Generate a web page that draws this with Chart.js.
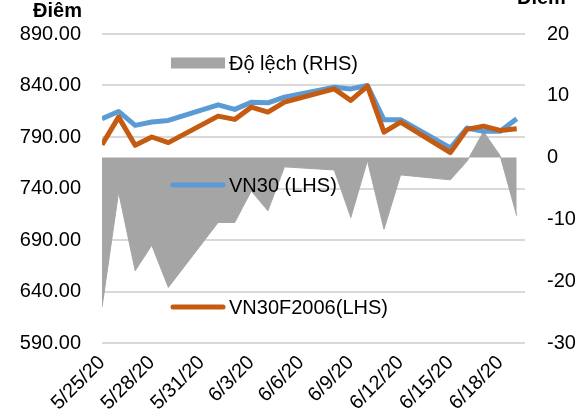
<!DOCTYPE html>
<html>
<head>
<meta charset="utf-8">
<script src="https://cdn.jsdelivr.net/npm/chart.js@4.4.0/dist/chart.umd.min.js"></script>
<style>
  html, body { margin: 0; padding: 0; background: #fff; }
  #wrap { width: 582px; height: 418px; }
</style>
</head>
<body>
<div id="wrap"><canvas id="chart"></canvas></div>
<script>
// calendar days on the date axis (weekends have no trading data)
const dates = [
  '5/25/20', '5/26/20', '5/27/20', '5/28/20', '5/29/20', '5/30/20', '5/31/20',
  '6/1/20', '6/2/20', '6/3/20', '6/4/20', '6/5/20', '6/6/20', '6/7/20',
  '6/8/20', '6/9/20', '6/10/20', '6/11/20', '6/12/20', '6/13/20', '6/14/20',
  '6/15/20', '6/16/20', '6/17/20', '6/18/20', '6/19/20'
];
const vn30 = [
  807.7, 814.8, 801.3, 804.5, 806.1, null, null,
  821.2, 816.8, 823.8, 823.2, 828.7, null, null,
  838.4, 836.7, 840.0, 806.7, 806.7, null, null,
  779.3, 798.7, 795.5, 795.5, 807.7
];
const vn30f2006 = [
  782.5, 809.3, 781.9, 790.0, 784.5, null, null,
  810.3, 807.1, 819.0, 814.2, 823.8, null, null,
  836.7, 825.5, 839.3, 794.8, 804.5, null, null,
  774.8, 797.4, 800.6, 796.4, 798.0
];
const spread = [
  -24.2, -5.6, -18.3, -14.2, -21.0, null, null,
  -10.5, -10.5, -5.4, -8.6, -1.5, null, null,
  -2.0, -9.7, -0.5, -11.6, -2.8, null, null,
  -3.6, -0.6, 4.2, 0.3, -9.4
];
const leftTicks = { min: 590, max: 890, step: 50 };
const rightTicks = { min: -30, max: 20, step: 10 };

const FONT = "'Liberation Sans', Arial, sans-serif";

// keep only trading days, x = day offset on the calendar axis
function toPoints(values) {
  const pts = [];
  values.forEach((v, i) => {
    if (v !== null) pts.push({ x: i, y: v });
  });
  return pts;
}

// legend entries sit inside the plot, like the original
const legendPlugin = {
  id: 'floatingLegend',
  afterDatasetsDraw(chart) {
    const ctx = chart.ctx;
    const spots = [
      { ds: 2, y: 63 },
      { ds: 1, y: 185 },
      { ds: 0, y: 307 },
    ];
    ctx.save();
    ctx.font = '20px ' + FONT;
    ctx.textBaseline = 'middle';
    ctx.fillStyle = '#000';
    spots.forEach((s) => {
      const ds = chart.data.datasets[s.ds];
      if (ds.fill) {
        ctx.fillStyle = ds.backgroundColor;
        ctx.fillRect(171, s.y - 5.5, 54, 11);
      } else {
        ctx.strokeStyle = ds.borderColor;
        ctx.lineWidth = 5;
        ctx.lineCap = 'round';
        ctx.beginPath();
        ctx.moveTo(173, s.y);
        ctx.lineTo(223, s.y);
        ctx.stroke();
      }
      ctx.fillStyle = '#000';
      ctx.textAlign = 'left';
      ctx.fillText(ds.label, 229, s.y + 1);
    });
    // axis unit titles
    ctx.font = 'bold 20px ' + FONT;
    ctx.textBaseline = 'alphabetic';
    ctx.textAlign = 'right';
    ctx.fillText('Điêm', 82, 17);
    ctx.textAlign = 'left';
    ctx.fillText('Điêm', 517, 4);
    ctx.restore();
  },
};

new Chart(document.getElementById('chart'), {
  type: 'line',
  data: {
    datasets: [
      {
        label: 'VN30F2006(LHS)',
        data: toPoints(vn30f2006),
        yAxisID: 'y',
        borderColor: '#C55A11',
        borderWidth: 5,
        borderJoinStyle: 'round',
        pointRadius: 0,
        tension: 0,
        fill: false,
        order: 0,
      },
      {
        label: 'VN30 (LHS)',
        data: toPoints(vn30),
        yAxisID: 'y',
        borderColor: '#5B9BD5',
        borderWidth: 5,
        borderJoinStyle: 'round',
        pointRadius: 0,
        tension: 0,
        fill: false,
        order: 1,
      },
      {
        label: 'Độ lệch (RHS)',
        data: toPoints(spread),
        yAxisID: 'y2',
        borderColor: '#A5A5A5',
        backgroundColor: '#A5A5A5',
        borderWidth: 1,
        pointRadius: 0,
        tension: 0,
        fill: 'origin',
        order: 2,
      },
    ],
  },
  options: {
    responsive: true,
    maintainAspectRatio: false,
    animation: false,
    layout: {
      padding: { top: 31, right: 0, bottom: 0, left: 0 },
    },
    plugins: {
      legend: { display: false },
      tooltip: { enabled: false },
    },
    scales: {
      x: {
        type: 'linear',
        min: 0,
        max: 25.5,
        grid: { display: false, drawTicks: false },
        border: { display: false },
        afterFit: (scale) => { scale.height = 75; },
        ticks: {
          stepSize: 3,
          includeBounds: false,
          autoSkip: false,
          minRotation: 45,
          maxRotation: 45,
          padding: 8,
          color: '#000',
          font: { family: FONT, size: 20 },
          callback: (val) => (Number.isInteger(val) && dates[val]) ? dates[val] : '',
        },
      },
      y: {
        position: 'left',
        min: leftTicks.min,
        max: leftTicks.max,
        grid: { color: '#d9d9d9', lineWidth: 2, drawTicks: false },
        border: { display: false },
        afterFit: (scale) => { scale.width = 102; },
        ticks: {
          stepSize: leftTicks.step,
          padding: 21,
          color: '#000',
          font: { family: FONT, size: 20 },
          callback: (val) => val.toFixed(2),
        },
      },
      y2: {
        position: 'right',
        min: rightTicks.min,
        max: rightTicks.max,
        grid: { display: false, drawTicks: false },
        border: { display: false },
        afterFit: (scale) => { scale.width = 57; },
        ticks: {
          stepSize: rightTicks.step,
          padding: 22,
          color: '#000',
          font: { family: FONT, size: 20 },
        },
      },
    },
  },
  plugins: [legendPlugin],
});
</script>
</body>
</html>
